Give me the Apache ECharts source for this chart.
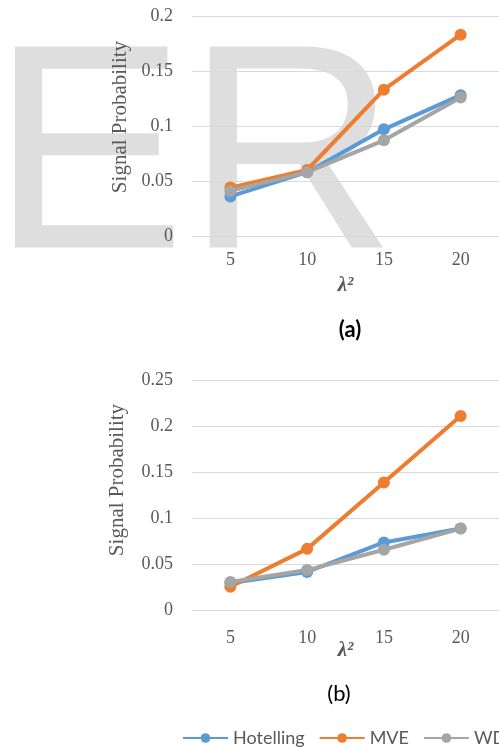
<!DOCTYPE html>
<html>
<head>
<meta charset="utf-8">
<script src="https://cdn.jsdelivr.net/npm/echarts@6/dist/echarts.min.js"></script>
<style>
html,body{margin:0;padding:0;background:#fff;}
#c{width:499px;height:747px;}
</style>
</head>
<body>
<div id="c"></div>
<script>
const categories = ['5', '10', '15', '20'];
const seriesNames = ['Hotelling', 'MVE', 'WD'];
// chart (a)
const hotellingA = [0.036, 0.058, 0.097, 0.128];
const mveA = [0.044, 0.060, 0.133, 0.183];
const wdA = [0.041, 0.058, 0.087, 0.126];
// chart (b)
const hotellingB = [0.030, 0.042, 0.074, 0.089];
const mveB = [0.026, 0.067, 0.139, 0.211];
const wdB = [0.031, 0.044, 0.066, 0.089];
const yMaxA = 0.2, yMaxB = 0.25, yStep = 0.05;

const colors = ['#5B9BD5', '#ED7D31', '#A5A5A5'];
const chart = echarts.init(document.getElementById('c'), null, {renderer: 'canvas'});

const tickFont = {color: '#595959', fontFamily: 'Liberation Serif', fontSize: 18};
function xAx(gi, margin, gap) {
  return {
    type: 'category', gridIndex: gi, data: categories, boundaryGap: true,
    axisLine: {show: false}, axisTick: {show: false},
    axisLabel: Object.assign({margin: margin}, tickFont),
    name: 'λ²', nameLocation: 'middle', nameGap: gap, nameMoveOverlap: false,
    nameTextStyle: {fontFamily: 'Liberation Serif', fontStyle: 'italic', fontWeight: 'bold', fontSize: 21, color: '#595959'}
  };
}
function yAx(gi, max) {
  return {
    type: 'value', gridIndex: gi, min: 0, max: max, interval: yStep,
    axisLine: {show: false}, axisTick: {show: false},
    axisLabel: Object.assign({margin: 19}, tickFont),
    splitLine: {lineStyle: {color: '#d9d9d9', width: 1}}
  };
}
function ser(name, data, ci, axi) {
  return {
    name: name, type: 'line', data: data, xAxisIndex: axi, yAxisIndex: axi,
    symbol: 'circle', symbolSize: 12, showSymbol: true,
    lineStyle: {color: colors[ci], width: 4},
    itemStyle: {color: colors[ci]},
    emphasis: {disabled: true}, animation: false
  };
}

chart.setOption({
  animation: false,
  color: colors,
  grid: [
    {left: 192, right: -10, top: 16, height: 220},
    {left: 192, right: -10, top: 380, height: 230.7}
  ],
  xAxis: [xAx(0, 15, 39), xAx(1, 19, 29)],
  yAxis: [yAx(0, yMaxA), yAx(1, yMaxB)],
  legend: {
    left: 177, top: 724, width: 700, itemWidth: 45, itemHeight: 12, itemGap: 14,
    textStyle: {fontFamily: 'Lato', fontSize: 18, color: '#595959'},
    data: seriesNames
  },
  graphic: [
    {type: 'text', z: -10, left: -9, top: 21, silent: true,
     style: {text: 'ER', font: '292px "Liberation Sans"', fill: '#dedede'}},
    {type: 'text', x: 120, y: 117, rotation: Math.PI / 2,
     style: {text: 'Signal Probability', font: '21px "Liberation Serif"', fill: '#595959', textAlign: 'center', textVerticalAlign: 'middle'}},
    {type: 'text', x: 117, y: 480, rotation: Math.PI / 2,
     style: {text: 'Signal Probability', font: '21px "Liberation Serif"', fill: '#595959', textAlign: 'center', textVerticalAlign: 'middle'}},
    {type: 'text', x: 350, y: 330,
     style: {text: '(a)', font: 'bold 22px Lato', fill: '#000', textAlign: 'center', textVerticalAlign: 'middle'}},
    {type: 'text', x: 339, y: 694,
     style: {text: '(b)', font: '22px Lato', fill: '#000', textAlign: 'center', textVerticalAlign: 'middle'}}
  ],
  series: [
    ser('Hotelling', hotellingA, 0, 0), ser('MVE', mveA, 1, 0), ser('WD', wdA, 2, 0),
    ser('Hotelling', hotellingB, 0, 1), ser('MVE', mveB, 1, 1), ser('WD', wdB, 2, 1)
  ]
});
</script>
</body>
</html>
